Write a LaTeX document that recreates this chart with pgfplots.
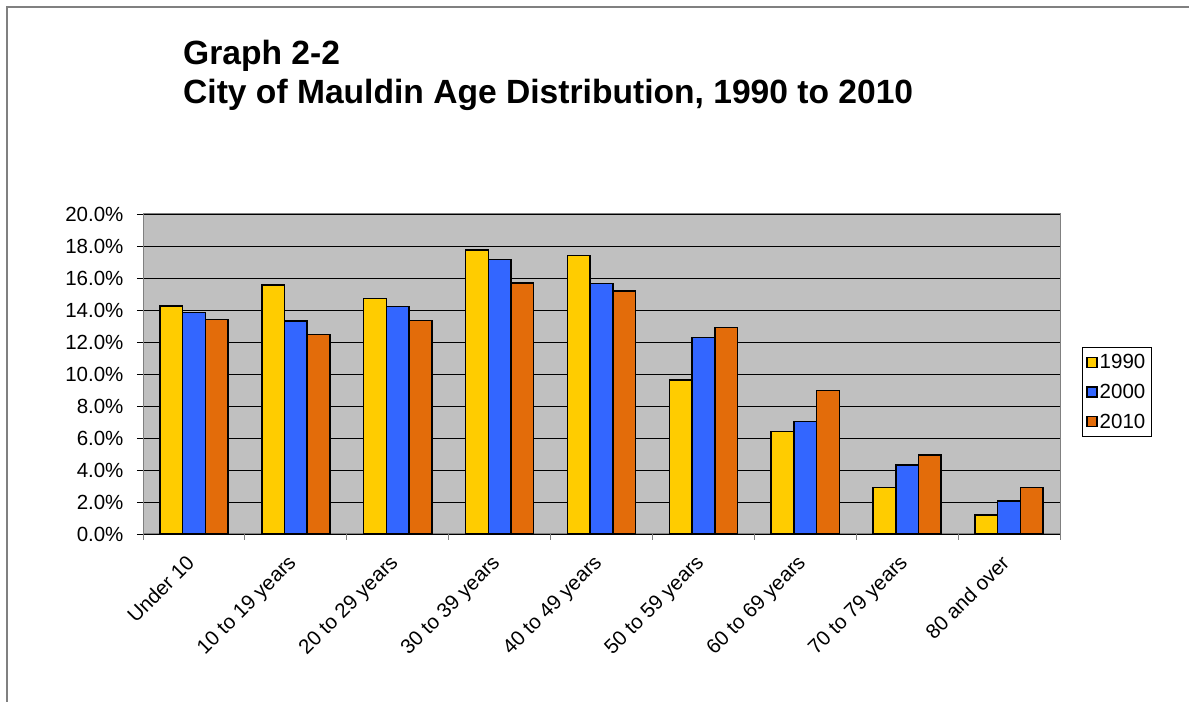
\documentclass[border=0pt]{standalone}
\usepackage{fontspec}
\setmainfont{Liberation Sans}
\usepackage{pgfplots}
\pgfplotsset{compat=1.18}
\definecolor{cyel}{HTML}{FFCC00}
\definecolor{cblu}{HTML}{3366FF}
\definecolor{cora}{HTML}{E36C0A}
\definecolor{cbg}{HTML}{C0C0C0}
\definecolor{cframe}{HTML}{808080}
\begin{document}
\begin{tikzpicture}[x=1bp,y=1bp]
\useasboundingbox (0,0) rectangle (1189,702);
\draw[cframe, line width=1.3bp] (7,0) -- (7,695) -- (1189,695);
\node[anchor=base west, inner sep=0pt, font=\fontsize{33.6bp}{39bp}\selectfont\bfseries] at (183,637) {Graph 2-2};
\node[anchor=base west, inner sep=0pt, font=\fontsize{33.6bp}{39bp}\selectfont\bfseries] at (183,598) {City of Mauldin Age Distribution, 1990 to 2010};
\begin{axis}[
  at={(143bp,168bp)}, anchor=south west,
  scale only axis, width=917bp, height=320bp,
  ybar=0pt, bar width=0.2228,
  xmin=-0.5, xmax=8.5, ymin=0, ymax=20,
  axis background/.style={fill=cbg},
  axis line style={cframe, line width=1bp},
  ymajorgrids, major grid style={black, line width=0.9bp},
  ytick={0,2,...,20},
  yticklabels={0.0\%,2.0\%,4.0\%,6.0\%,8.0\%,10.0\%,12.0\%,14.0\%,16.0\%,18.0\%,20.0\%},
  ytick style={black, line width=0.9bp},
  yticklabel style={xshift=-10bp},
  tick align=outside, major tick length=6bp,
  xtick={0,...,8},
  xticklabels={Under 10,10 to 19 years,20 to 29 years,30 to 39 years,40 to 49 years,50 to 59 years,60 to 69 years,70 to 79 years,80 and over},
  xtick style={draw=none},
  extra x ticks={-0.5,0.5,...,8.5},
  extra x tick labels={},
  extra x tick style={grid=none, xtick style={draw=cframe, line width=1bp}},
  xticklabel style={xshift=-9bp, yshift=-12bp, rotate=45, anchor=north east, inner sep=1bp},
  ticklabel style={font=\fontsize{20.5bp}{24bp}\selectfont},
  /pgf/number format/assume math mode=true,
  tick pos=left,
  legend style={at={(1,0.5)}, anchor=west, xshift=22bp, yshift=-18bp,
    draw=black, line width=0.8bp, fill=white, font=\fontsize{20.5bp}{24bp}\selectfont,
    inner xsep=4bp, inner ysep=5bp, row sep=10bp, cells={anchor=west},
    /tikz/every even column/.append style={column sep=0pt}},
  legend image code/.code={\draw[#1, line width=1.3bp] (1bp,-5bp) rectangle (11bp,5bp);},
  every axis plot/.append style={draw=black, line width=1.5bp},
]
\addplot[fill=cyel] coordinates {(0,14.25) (1,15.56) (2,14.71) (3,17.75) (4,17.42) (5,9.63) (6,6.42) (7,2.90) (8,1.19)};
\addplot[fill=cblu] coordinates {(0,13.83) (1,13.31) (2,14.23) (3,17.15) (4,15.65) (5,12.27) (6,7.04) (7,4.31) (8,2.06)};
\addplot[fill=cora] coordinates {(0,13.42) (1,12.48) (2,13.35) (3,15.69) (4,15.19) (5,12.90) (6,8.98) (7,4.94) (8,2.92)};
\legend{1990,2000,2010}
\end{axis}
\end{tikzpicture}
\end{document}
